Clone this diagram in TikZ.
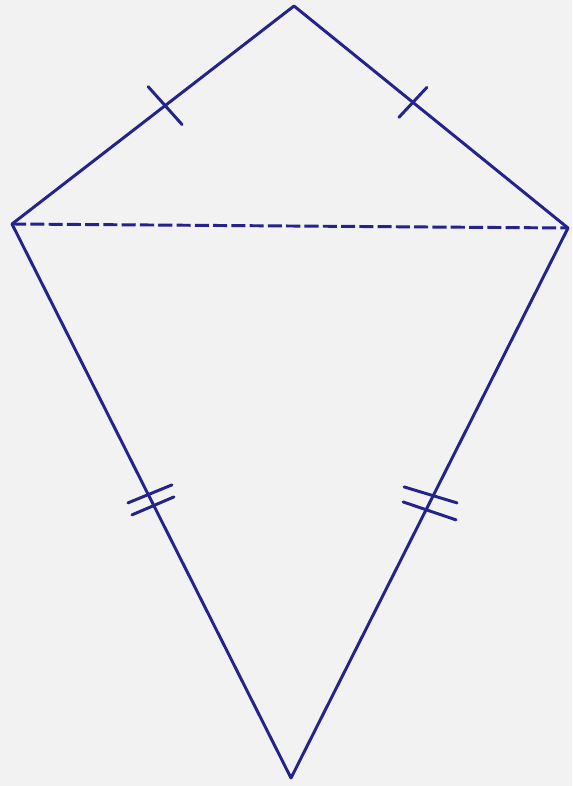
\documentclass[tikz,border=0pt]{standalone}
\usetikzlibrary{calc}
\definecolor{penblue}{RGB}{36,34,140}
\definecolor{paper}{RGB}{242,242,242}

\begin{document}
\begin{tikzpicture}[x=0.025cm, y=-0.025cm, line width=2.1pt, line cap=round, line join=round]
  % Paper
  \fill[paper] (0,0) rectangle (572,786);
  \useasboundingbox (0,0) rectangle (572,786);

  % Kite corners
  \coordinate (top) at (294,6);
  \coordinate (left) at (12,224);
  \coordinate (right) at (568,228);
  \coordinate (bot) at (291,778);

  % Kite outline
  \draw[penblue] (top) -- (left) -- (bot) -- (right) -- cycle;

  % Diagonal
  \draw[penblue, line cap=butt, dash pattern=on 10pt off 3pt] (left) -- (right);

  % Equal short sides
  \coordinate (tl) at ($(top)!0.457!(left)$);
  \coordinate (tr) at ($(top)!0.434!(right)$);
  \draw[penblue] ($(tl)+(-17,-19)$) -- ($(tl)+(17,19)$);
  \draw[penblue] ($(tr)+(-14,15)$) -- ($(tr)+(14,-15)$);

  % Equal long sides
  \coordinate (bl) at ($(left)!0.498!(bot)$);
  \coordinate (br) at ($(right)!0.498!(bot)$);
  \draw[penblue] ($(bl)+(-23,3)$) -- ($(bl)+(21,-15)$);
  \draw[penblue] ($(bl)+(-19,15)$) -- ($(bl)+(23,-3)$);
  \draw[penblue] ($(br)+(-26,-15)$) -- ($(br)+(27,1)$);
  \draw[penblue] ($(br)+(-27,0)$) -- ($(br)+(26,18)$);
\end{tikzpicture}
\end{document}
